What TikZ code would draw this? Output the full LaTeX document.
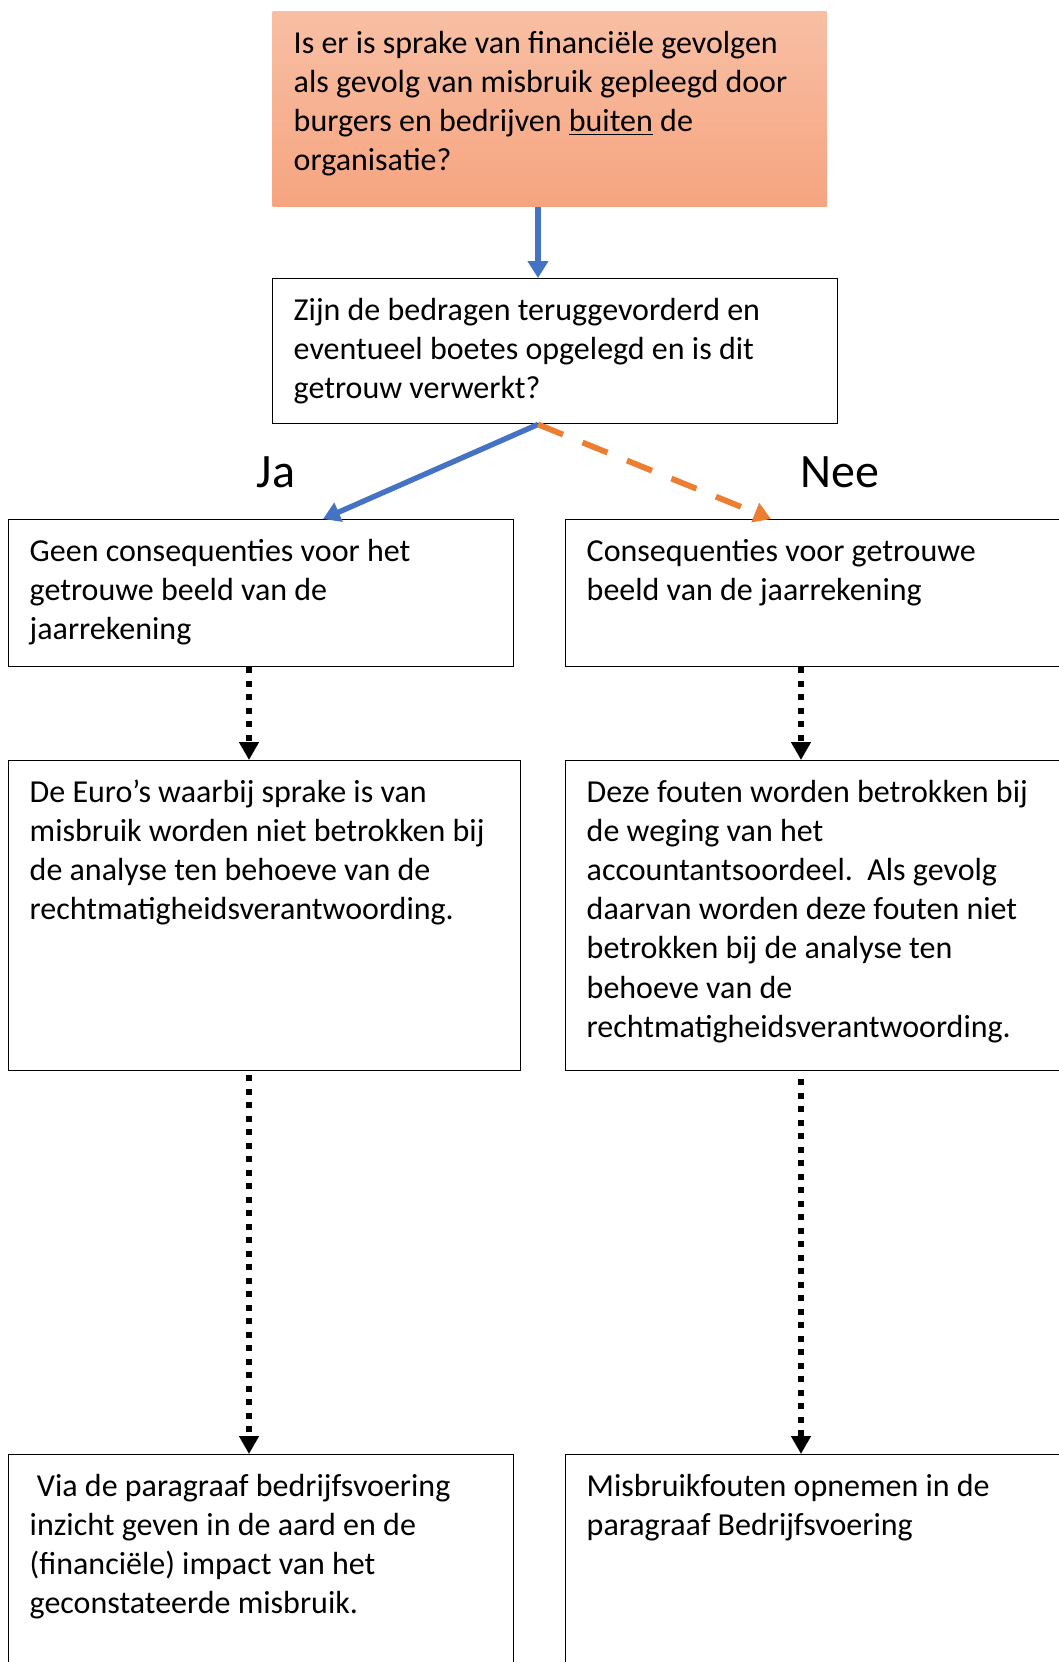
\documentclass[tikz,border=0pt]{standalone}
\usepackage{fontspec}
\setmainfont{Carlito}
\usetikzlibrary{arrows.meta}

\definecolor{accentblauw}{RGB}{68,114,196}
\definecolor{accentoranje}{RGB}{237,125,49}
\definecolor{zalmboven}{RGB}{248,191,164}
\definecolor{zalmonder}{RGB}{246,164,128}

\newcommand{\vaktekst}[3]{\parbox[t][#2][t]{#1}{\raggedright\strut #3}}

\begin{document}
\begin{tikzpicture}[x=0.5pt, y=-0.5pt,
  vak/.style={draw, line width=0.7pt, anchor=north west, inner xsep=10.5pt, inner ysep=7pt,
    font=\fontsize{16}{19.6}\selectfont},
  keuze/.style={font=\fontsize{24}{28}\selectfont},
  pijlblauw/.style={-{Triangle[length=8.5pt,width=10pt]}, accentblauw, line width=2.7pt},
  pijloranje/.style={-{Triangle[length=8.5pt,width=10pt]}, accentoranje, line width=2.9pt, dash pattern=on 13.5pt off 10.5pt},
  stippel/.style={-{Triangle[length=9pt,width=9.5pt]}, line width=3pt, dash pattern=on 3pt off 3.75pt}]

\useasboundingbox (0,0) rectangle (1059,1662);
\clip (0,0) rectangle (1059,1662);

% Hulppunten voor de verticale lijnen
\coordinate (as) at (538,0);
\coordinate (jaPunt) at (323,0);
\coordinate (neePunt) at (771,0);
\coordinate (links) at (249,0);
\coordinate (rechts) at (801,0);

% Vraag bovenaan
\node[vak, draw=none, top color=zalmboven, bottom color=zalmonder] (vraag) at (272,11)
  {\vaktekst{256pt}{83.5pt}{Is er is sprake van financiële gevolgen\\
   als gevolg van misbruik gepleegd door\\
   burgers en bedrijven \underline{buiten} de\\
   organisatie?}};

\node[vak] (terug) at (272,278)
  {\vaktekst{261.5pt}{58.5pt}{Zijn de bedragen teruggevorderd en\\
   eventueel boetes opgelegd en is dit\\
   getrouw verwerkt?}};

% Ja / Nee
\node[keuze] (ja) at (276,472) {Ja};
\node[keuze] (nee) at (840,472) {Nee};

% Linker tak
\node[vak] (geen) at (8,519)
  {\vaktekst{231.5pt}{59.5pt}{Geen consequenties voor het\\
   getrouwe beeld van de\\
   jaarrekening}};
\node[vak] (euro) at (8,760)
  {\vaktekst{235pt}{141pt}{De Euro’s waarbij sprake is van\\
   misbruik worden niet betrokken bij\\
   de analyse ten behoeve van de\\
   rechtmatigheidsverantwoording.}};
\node[vak] (via) at (8,1454)
  {\vaktekst{231.5pt}{130pt}{\ Via de paragraaf bedrijfsvoering\\
   inzicht geven in de aard en de\\
   (financiële) impact van het\\
   geconstateerde misbruik.}};

% Rechter tak
\node[vak] (cons) at (565,519)
  {\vaktekst{235pt}{59.5pt}{Consequenties voor getrouwe\\
   beeld van de jaarrekening}};
\node[vak] (weging) at (565,760)
  {\vaktekst{235pt}{141pt}{Deze fouten worden betrokken bij\\
   de weging van het\\
   accountantsoordeel.\ \ Als gevolg\\
   daarvan worden deze fouten niet\\
   betrokken bij de analyse ten\\
   behoeve van de\\
   rechtmatigheidsverantwoording.}};
\node[vak] (opnemen) at (565,1454)
  {\vaktekst{235pt}{130pt}{Misbruikfouten opnemen in de\\
   paragraaf Bedrijfsvoering}};

% Pijlen
\draw[pijlblauw] (vraag.south -| as) -- (terug.north -| as);
\draw[pijlblauw] (terug.south -| as) -- (geen.north -| jaPunt);
\draw[pijloranje] (terug.south -| as) -- (cons.north -| neePunt);

\draw[stippel] (geen.south -| links) -- (euro.north -| links);
\draw[stippel, shorten <=2pt] (euro.south -| links) -- (via.north -| links);
\draw[stippel] (cons.south -| rechts) -- (weging.north -| rechts);
\draw[stippel, shorten <=4pt] (weging.south -| rechts) -- (opnemen.north -| rechts);

\end{tikzpicture}
\end{document}
